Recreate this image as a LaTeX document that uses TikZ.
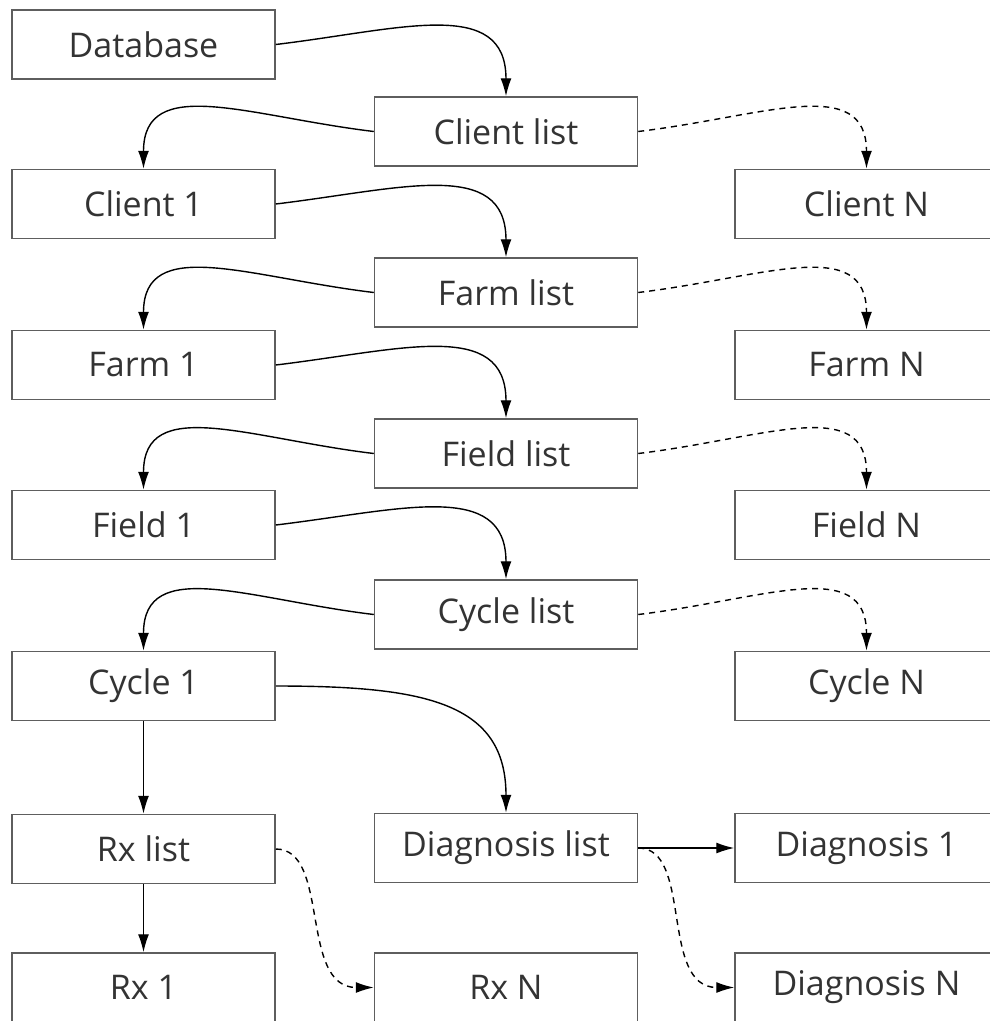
\documentclass[tikz,border=0pt]{standalone}
\usepackage{fontspec}
\setmainfont{Open Sans}
\usetikzlibrary{arrows.meta}
\definecolor{boxline}{HTML}{5E5E5E}
\definecolor{labeltext}{HTML}{333333}
\begin{document}
\begin{tikzpicture}[x=1pt,y=-1pt,
  box/.style={draw=boxline, line width=1.5pt, minimum width=263pt, minimum height=69pt,
    inner sep=0pt, text=labeltext, font=\fontsize{34}{40}\selectfont},
  link/.style={draw=black, line width=1.4pt, -{Latex[length=18pt,width=11pt]}},
  maybe/.style={link, dash pattern=on 6pt off 5pt},
]
\useasboundingbox (0,0) rectangle (990,1021);
\clip (0,0) rectangle (990,1021);

% column centres: 143.5 / 506 / 866.5
\node[box] (db)  at (143.5,44.5)  {Database};
\node[box] (cl)  at (506,131.5)   {Client list};
\node[box] (c1)  at (143.5,204)   {Client 1};
\node[box] (cn)  at (866.5,204)   {Client N};
\node[box] (fl)  at (506,292.5)   {Farm list};
\node[box] (f1)  at (143.5,365)   {Farm 1};
\node[box] (fn)  at (866.5,365)   {Farm N};
\node[box] (dl)  at (506,453.5)   {Field list};
\node[box] (d1)  at (143.5,525)   {Field 1};
\node[box] (dn)  at (866.5,525)   {Field N};
\node[box] (yl)  at (506,614.5)   {Cycle list};
\node[box] (y1)  at (143.5,686)   {Cycle 1};
\node[box] (yn)  at (866.5,686)   {Cycle N};
\node[box] (rl)  at (143.5,849)   {Rx list};
\node[box] (gl)  at (506,848)     {Diagnosis list};
\node[box] (g1)  at (866.5,848)   {Diagnosis 1};
\node[box] (r1)  at (143.5,987.5) {Rx 1};
\node[box] (rn)  at (506,987.5)   {Rx N};
\node[box] (gn)  at (866.5,987.5) {Diagnosis N};

% item -> next list
\draw[link] (db.east) .. controls +(125,-15) and +(0,-100) .. (cl.north);
\draw[link] (c1.east) .. controls +(125,-15) and +(0,-100) .. (fl.north);
\draw[link] (f1.east) .. controls +(125,-15) and +(0,-100) .. (dl.north);
\draw[link] (d1.east) .. controls +(125,-15) and +(0,-100) .. (yl.north);

% list -> first item
\draw[link] (cl.west) .. controls +(-125,-15) and +(0,-95) .. (c1.north);
\draw[link] (fl.west) .. controls +(-125,-15) and +(0,-95) .. (f1.north);
\draw[link] (dl.west) .. controls +(-125,-15) and +(0,-95) .. (d1.north);
\draw[link] (yl.west) .. controls +(-125,-15) and +(0,-95) .. (y1.north);

% list -> last item
\draw[maybe] (cl.east) .. controls +(125,-15) and +(0,-95) .. (cn.north);
\draw[maybe] (fl.east) .. controls +(125,-15) and +(0,-95) .. (fn.north);
\draw[maybe] (dl.east) .. controls +(125,-15) and +(0,-95) .. (dn.north);
\draw[maybe] (yl.east) .. controls +(125,-15) and +(0,-95) .. (yn.north);

% cycle branches
\draw[link] (y1.east) .. controls +(150,0) and +(0,-110) .. (gl.north);
\draw[link] (y1.south) -- (rl.north);
\draw[link] (rl.south) -- (r1.north);
\draw[maybe] (rl.east) .. controls +(55,0) and +(-75,0) .. (rn.west);
\draw[link] (gl.east) -- (g1.west);
\draw[maybe] (gl.east) .. controls +(55,0) and +(-75,0) .. (gn.west);
\end{tikzpicture}
\end{document}
